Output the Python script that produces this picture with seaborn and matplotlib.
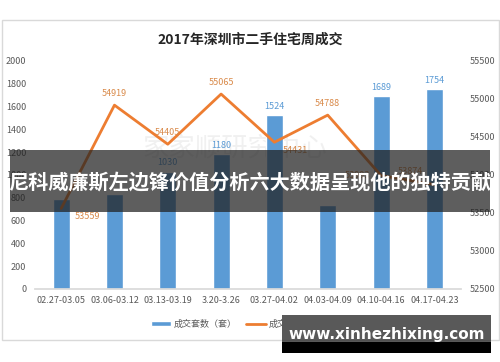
import matplotlib
matplotlib.use("Agg")
import matplotlib.pyplot as plt
import seaborn as sns
import pandas as pd
from matplotlib.patches import Rectangle, Patch
from matplotlib.lines import Line2D

# Data
weeks = ["02.27-03.05", "03.06-03.12", "03.13-03.19", "3.20-3.26",
         "03.27-04.02", "04.03-04.09", "04.10-04.16", "04.17-04.23"]
deals = [790, 836, 1030, 1180, 1524, 740, 1689, 1754]
prices = [53559, 54919, 54405, 55065, 54431, 54788, 53993, 53874]
# labels for bars hidden by the banner are not shown in the picture
deal_labels_shown = [False, False, True, True, True, False, True, True]

df = pd.DataFrame({"week": weeks, "deals": deals, "price": prices})

sns.set_theme(style="white")
plt.rcParams["font.family"] = ["Noto Sans CJK SC", "DejaVu Sans"]

blue = "#5B9BD5"
orange = "#ED7D31"
gray = "#595959"

fig = plt.figure(figsize=(5, 3.62), dpi=100)
ax = fig.add_axes([0.069, 0.2017, 0.853, 0.6298])

# faint watermark inside the chart, behind everything
ax.text(0.47, 0.62, "家家顺研究中心", fontsize=19, color="#F0F0F0",
        ha="center", va="center", transform=ax.transAxes, zorder=0.5)

sns.barplot(data=df, x="week", y="deals", color=blue, width=0.32,
            saturation=1, ax=ax)
ax.set_ylim(0, 2000)
ax.set_xlim(-0.5, len(weeks) - 0.5)
ax.set_yticks(range(0, 2001, 200))
ax.set_xlabel("")
ax.set_ylabel("")
ax.tick_params(axis="y", labelsize=6.5, colors=gray, length=0, pad=6)
ax.tick_params(axis="x", labelsize=6.5, colors=gray, length=0, pad=5)
for s in ["top", "right", "left"]:
    ax.spines[s].set_visible(False)
ax.spines["bottom"].set_color("#D9D9D9")

for i, (v, show) in enumerate(zip(deals, deal_labels_shown)):
    if show:
        ax.annotate(str(v), (i, v), xytext=(0, 3), textcoords="offset points",
                    ha="center", va="bottom", fontsize=6.5, color="#5B9BD5")

ax2 = ax.twinx()
sns.lineplot(data=df, x="week", y="price", color=orange, linewidth=2,
             sort=False, ax=ax2)
ax2.set_ylim(52500, 55500)
ax2.set_yticks(range(52500, 55501, 500))
ax2.set_ylabel("")
ax2.tick_params(axis="y", labelsize=6.5, colors=gray, length=0, pad=6)
for s in ["top", "right", "left", "bottom"]:
    ax2.spines[s].set_visible(False)

offsets = [(10, -6, "left"), (0, 5, "center"), (0, 5, "center"), (0, 5, "center"),
           (6, -6, "left"), (0, 5, "center"), (-8, 0, "right"), (-8, 6, "right")]
for i, (v, (dx, dy, ha)) in enumerate(zip(prices, offsets)):
    ax2.annotate(str(v), (i, v), xytext=(dx, dy), textcoords="offset points",
                 ha=ha, va="bottom" if dy > 0 else "center",
                 fontsize=6.5, color="#D98A4A")

# title
fig.text(0.5, 0.89, "2017年深圳市二手住宅周成交", fontsize=10, weight="bold",
         color="#262626", ha="center", va="center")

# legend
handles = [Patch(facecolor=blue, label="成交套数（套）"),
           Line2D([0], [0], color=orange, lw=2, label="成交均价（元/㎡）")]
fig.legend(handles=handles, loc="center", bbox_to_anchor=(0.495, 0.105),
           ncol=2, frameon=False, fontsize=6.5, labelcolor=gray,
           handlelength=2.2, handleheight=0.6, columnspacing=1.0,
           handletextpad=0.3)

# outer frame
fig.patches.append(Rectangle((0.003, 0.06), 0.994, 0.885, transform=fig.transFigure,
                             fill=False, edgecolor="#D9D9D9", lw=1))

# banner overlay
fig.patches.append(Rectangle((0.02, 0.414), 0.96, 0.171, transform=fig.transFigure,
                             facecolor="#202020", alpha=0.72, edgecolor="none",
                             zorder=5))
fig.text(0.5, 0.497, "尼科威廉斯左边锋价值分析六大数据呈现他的独特贡献",
         fontsize=14.5, weight="bold", color="white", ha="center", va="center",
         zorder=6)

# site watermark
fig.patches.append(Rectangle((0.564, 0.05), 0.418, 0.08, transform=fig.transFigure,
                             facecolor="#303030", alpha=0.8, edgecolor="none",
                             zorder=5))
fig.patches.append(Rectangle((0.564, 0.025), 0.418, 0.03, transform=fig.transFigure,
                             facecolor="black", edgecolor="none", zorder=5))
fig.text(0.773, 0.075, "www.xinhezhixing.com", fontsize=11, weight="bold",
         color="white", ha="center", va="center", zorder=6,
         family="DejaVu Sans")

fig.savefig("out.png", dpi=100, facecolor="white")
